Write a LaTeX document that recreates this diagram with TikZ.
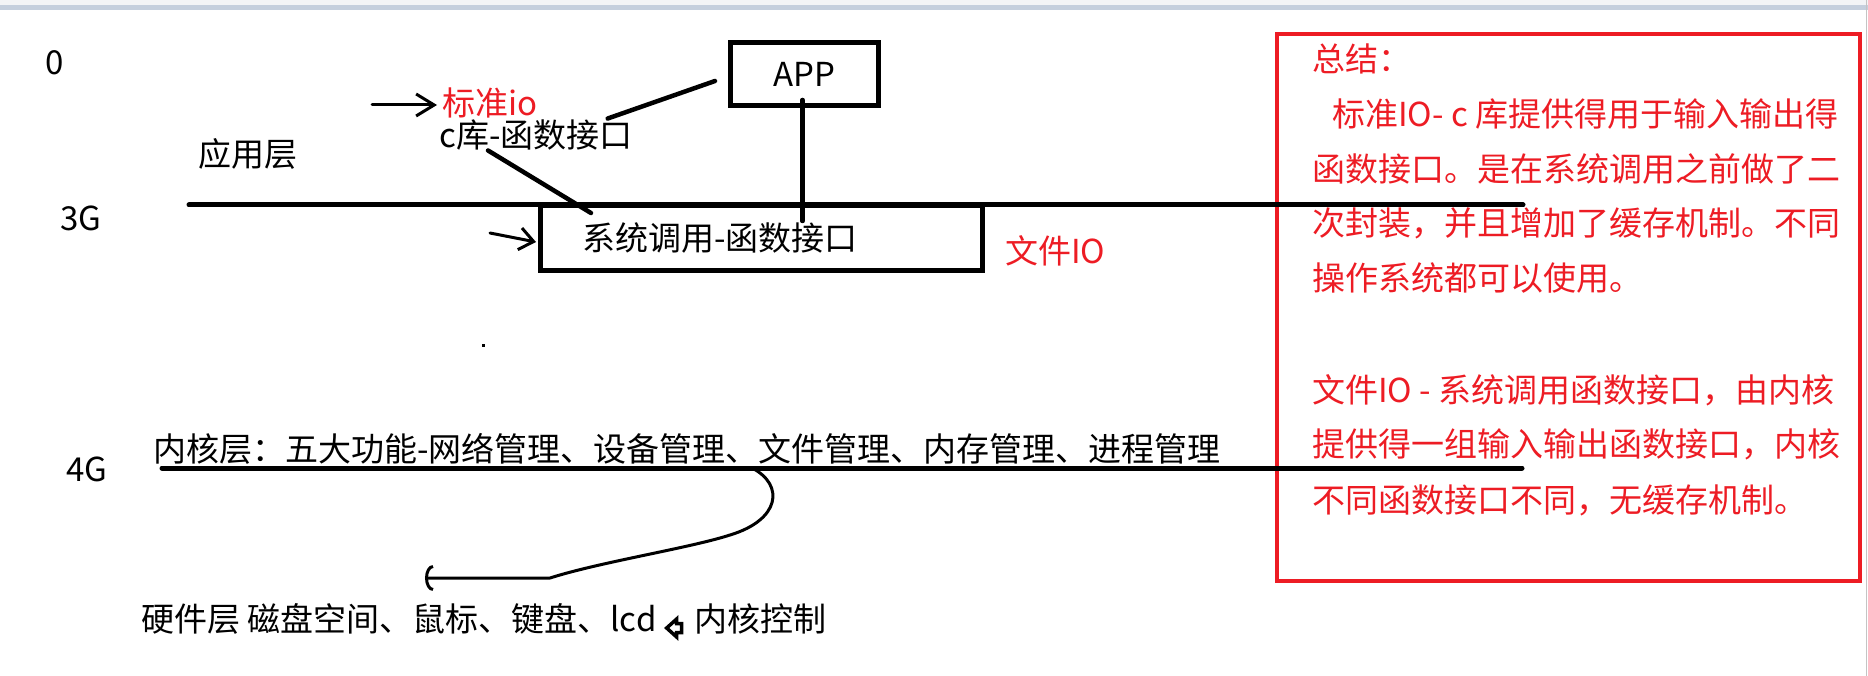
\documentclass[tikz,border=0pt]{standalone}
\usepackage{fontspec}
\setmainfont{Noto Sans CJK SC}
\usetikzlibrary{arrows.meta,calc}
\definecolor{note}{HTML}{ED1C24}
\definecolor{barlight}{HTML}{F3F4F6}
\definecolor{barblue}{HTML}{C5CFDD}
\definecolor{edge}{HTML}{C4C4C4}

\begin{document}
\begin{tikzpicture}[x=1pt,y=-1pt,
  lbl/.style={inner sep=0pt, anchor=west, font=\fontsize{33}{40}\selectfont},
  redlbl/.style={lbl, text=note},
  rule/.style={line width=5pt, line cap=round},
  link/.style={line width=4.5pt, line cap=round},
  hand/.style={line width=3pt, line cap=round, line join=round},
  layerbox/.style={draw, line width=5pt, inner sep=0pt, font=\fontsize{33}{40}\selectfont}]
\useasboundingbox (0,0) rectangle (1868,676);
% window frame of the screenshot
\fill[barlight] (0,0) rectangle (1868,5);
\fill[barblue] (0,5) rectangle (1868,10);
\draw[edge, line width=1.5pt] (1866.5,0) -- (1866.5,676);

% summary box
\node[draw=note, line width=4pt, minimum width=583pt, minimum height=547pt] (sumbox) at (1568.5,307.5) {};
\foreach \xx/\yy/\txt [count=\i] in {1312/59/总结：, 1332/114/标准IO- c 库提供得用于输入输出得, 1312/169/函数接口。是在系统调用之前做了二, 1312/223/次封装，并且增加了缓存机制。不同, 1312/278/操作系统都可以使用。, 1312/390/文件IO - 系统调用函数接口，由内核, 1312/444/提供得一组输入输出函数接口，内核, 1312/500/不同函数接口不同，无缓存机制。}
  \node[redlbl] (sum-\i) at (\xx,\yy) {\txt};

% address marks and layers
\node[lbl] (m0) at (45,63) {0};
\node[lbl] (m3g) at (60,218) {3G};
\node[lbl] (m4g) at (66,469) {4G};
\node[lbl] (applayer) at (198,154) {应用层};

\node[layerbox, minimum width=148pt, minimum height=63pt] (app) at (804.5,74) {APP};
\node[redlbl] (stdio) at (442,103) {标准io};
\node[lbl] (clib) at (439,135) {c库-函数接口};
\node[layerbox, minimum height=65pt, text width=359pt, inner xsep=41.5pt, align=left] (sys) at (761.5,238) {系统调用-函数接口};
\node[redlbl] (fileio) at (1005,251) {文件IO};

\coordinate (g3a) at (189,205);
\coordinate (g3b) at (1523,205);
\draw[rule] (g3a) -- (g3b);

\coordinate (stdtail) at (372,105);
\draw[hand, -{Straight Barb[length=18pt,width=22pt]}] (stdtail) -- ($(stdio.west)+(-5,2)$);
\coordinate (systail) at (490,233);
\draw[hand, -{Straight Barb[length=14pt,width=22pt]}] (systail) -- ($(sys.west)+(-2,4)$);

\draw[link] ($(app.west)+(-13,7)$) -- ($(clib.north east)+(-25,-1)$);
\draw[link] ($(clib.south west)+(49,0)$) -- ($(sys.north west)+(53,10)$);
\draw[link] ($(app.south)+(-2,-8)$) -- ($(sys.north)+(41,18)$);

% kernel and hardware
\node[lbl] (kern) at (153,449) {内核层：五大功能-网络管理、设备管理、文件管理、内存管理、进程管理};
\coordinate (g4a) at (162,468);
\coordinate (g4b) at (1522,468);
\draw[rule] (g4a) -- (g4b);

\node[lbl] (hw) at (141,619) {硬件层 磁盘空间、鼠标、键盘、lcd};
\coordinate (icon) at ($(hw.east)+(10,9)$);
\draw[line width=3.5pt, line join=miter, fill=white] (icon) -- ++(10,-9) -- ++(0,4.5) -- ++(5,0) -- ++(0,9) -- ++(-5,0) -- ++(0,4.5) -- cycle;
\node[lbl] (kctl) at ($(icon)+(28,-9)$) {内核控制};

\coordinate (kdown) at (752,468);
\coordinate (hwin) at (425,578);
\draw[hand, -{Arc Barb[length=8pt,width=26pt]}] (kdown) .. controls (785,485) and (780,520) .. (730,535) .. controls (690,548) and (600,562) .. (550,578) -- (hwin);

\fill (482,344) rectangle ++(3,3);
\end{tikzpicture}
\end{document}
